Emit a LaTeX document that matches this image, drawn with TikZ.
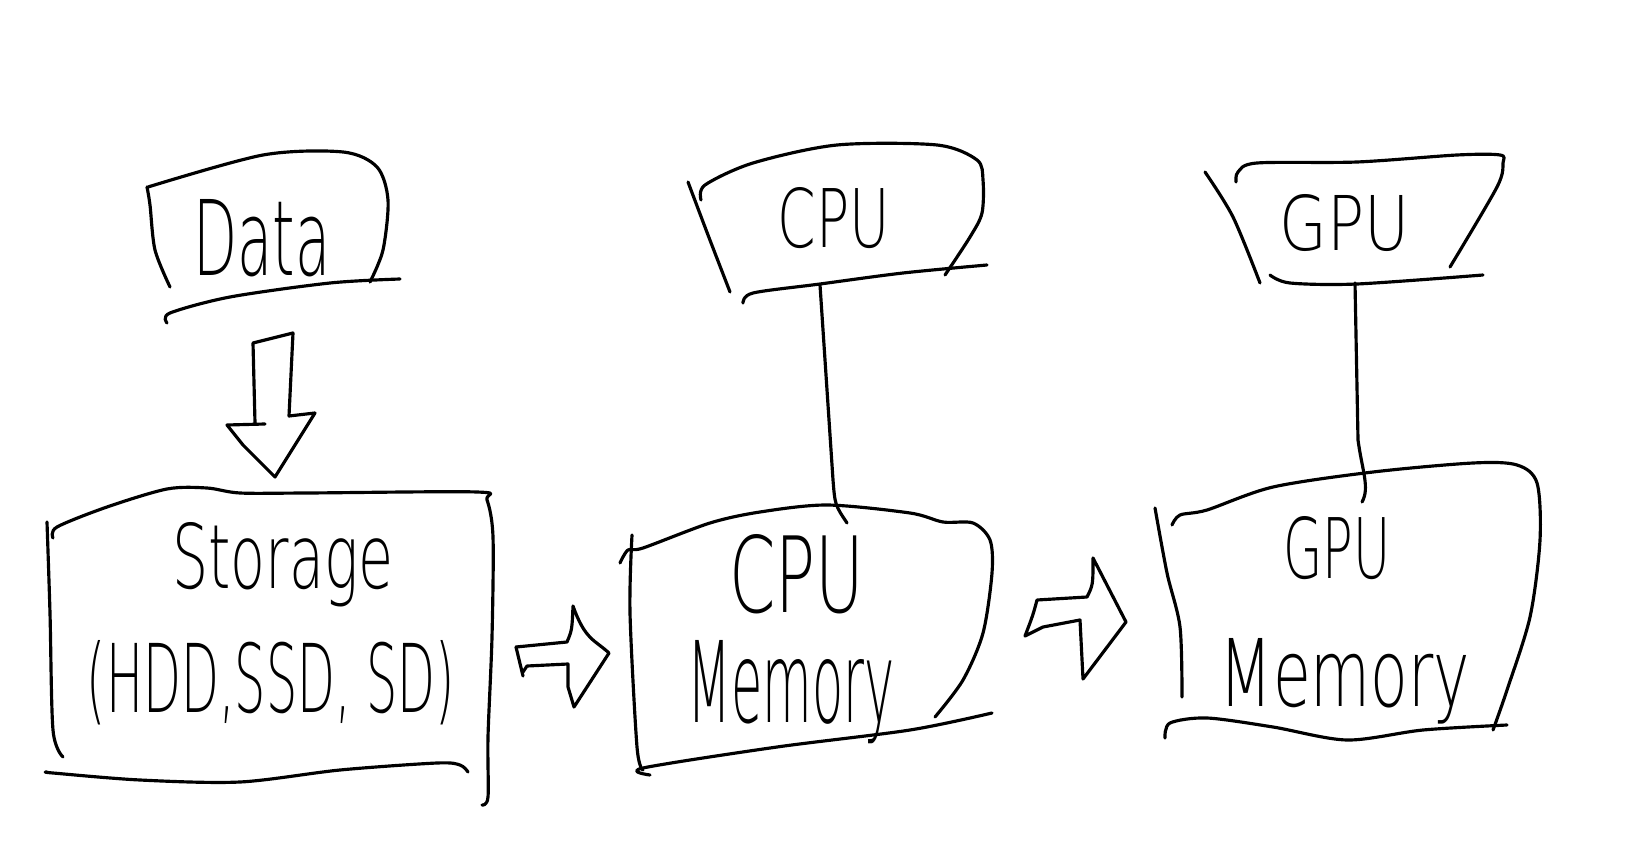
\documentclass[tikz,border=0pt]{standalone}
\usepackage{graphicx}
\usepackage{fontspec}
\setmainfont{DejaVu Sans}
\newfontfamily\hwfont{DejaVu Sans ExtraLight}
\newcommand{\hwt}[3]{\resizebox{#1cm}{#2cm}{\hwfont #3}}
\tikzset{
  pen/.style={line width=0.9pt, line cap=round, line join=round, black},
  hw/.style={inner sep=0pt, anchor=base, text=black},
}
\begin{document}
\begin{tikzpicture}[x=0.01cm,y=-0.01cm]
\fill[white] (0,0) rectangle (1640,858);
\useasboundingbox (0,0) rectangle (1640,858);

% ---------- Data box ----------
\node[hw] (data) at (262,276) {\hwt{1.37}{0.76}{Data}};
\draw[pen] plot[smooth] coordinates {(147,187) (150,205) (155,250) (170,287)};
\draw[pen] plot[smooth] coordinates {(148,187) (263,155) (343,152) (377,167) (388,200) (383,250) (370,282)};
\draw[pen] plot[smooth] coordinates {(400,279) (330,283) (230,297) (170,313) (167,323)};

% ---------- down block arrow ----------
\draw[pen] (255,423) -- (253,343) -- (293,333) -- (289,416) -- (315,413) -- (275,477) -- (243,445) -- (227,425) -- (265,424);

% ---------- Storage box ----------
\node[hw] (storage) at (283,588) {\hwt{2.21}{0.66}{Storage}};
\node[hw] (storage2) at (271,712) {\hwt{3.68}{0.72}{(HDD,SSD, SD)}};
\draw[pen] plot[smooth] coordinates {(47,522) (50,613) (53,730) (63,757)};
\draw[pen] plot[smooth] coordinates {(53,538) (57,527) (107,507) (167,489) (207,488) (240,493) (307,493) (477,492) (487,500) (493,537) (492,637) (488,737) (488,797) (482,805)};
\draw[pen] plot[smooth] coordinates {(47,772) (53,773) (140,780) (240,782) (340,770) (437,763) (460,765) (468,772)};

% ---------- arrow storage -> CPU memory ----------
\draw[pen] (516,647) -- (567,642) .. controls (572,630) .. (573,606)
  .. controls (585,640) and (595,640) .. (609,653) -- (574,707) -- (568,687) -- (568,664) -- (527,666) -- (523,672);
\draw[pen] (516,647) -- (523,676);

% ---------- CPU box ----------
\node[hw] (cpu) at (834,248) {\hwt{1.12}{0.60}{CPU}};
\draw[pen] plot[smooth] coordinates {(688,182) (708,235) (730,292)};
\draw[pen] plot[smooth] coordinates {(701,200) (705,185) (753,163) (837,145) (937,145) (977,160) (983,180) (982,213) (970,237) (945,275)};
\draw[pen] plot[smooth] coordinates {(987,265) (903,273) (820,284) (753,293) (743,303)};
\coordinate (cpuLink) at (820,285);

% ---------- CPU Memory box ----------
\node[hw] (cpumem) at (797,612) {\hwt{1.35}{0.78}{CPU}};
\node[hw] (cpumem2) at (791,722) {\hwt{2.07}{0.82}{Memory}};
\draw[pen] plot[smooth] coordinates {(632,535) (630,613) (637,747) (643,770)};
\draw[pen] plot[smooth] coordinates {(620,563) (628,550) (643,548) (710,523) (760,512) (827,505) (910,513) (943,522) (973,523) (990,540) (992,573) (983,633) (963,680) (935,717)};
\draw[pen] plot[smooth] coordinates {(992,713) (910,730) (777,747) (643,768) (650,775)};
\coordinate (cpumemLink) at (847,523);
\draw[pen] (cpuLink) -- (833,480) .. controls (835,505) .. (cpumemLink);

% ---------- arrow CPU memory -> GPU memory ----------
\draw[pen] (1037,600) -- (1087,597) .. controls (1093,585) .. (1093,558) -- (1126,622) -- (1083,679) -- (1080,620) -- (1043,627) -- (1025,636) .. controls (1033,615) .. (1037,600);

% ---------- GPU box ----------
\node[hw] (gpu) at (1345,251) {\hwt{1.30}{0.56}{GPU}};
\draw[pen] plot[smooth] coordinates {(1205,172) (1233,217) (1260,283)};
\draw[pen] plot[smooth] coordinates {(1236,182) (1238,172) (1257,163) (1357,162) (1457,155) (1500,155) (1503,163) (1497,187) (1450,267)};
\draw[pen] plot[smooth] coordinates {(1270,275) (1290,283) (1357,284) (1483,275)};
\coordinate (gpuLink) at (1355,283);

% ---------- GPU Memory box ----------
\node[hw] (gpumem) at (1337,578) {\hwt{1.07}{0.62}{GPU}};
\node[hw] (gpumem2) at (1345,706) {\hwt{2.50}{0.68}{Memory}};
\draw[pen] plot[smooth] coordinates {(1155,508) (1167,573) (1180,627) (1182,697)};
\draw[pen] plot[smooth] coordinates {(1172,525) (1180,515) (1207,510) (1273,487) (1373,472) (1473,463) (1517,465) (1537,483) (1540,540) (1530,617) (1507,690) (1493,730)};
\draw[pen] plot[smooth] coordinates {(1507,725) (1423,730) (1347,740) (1273,727) (1207,718) (1170,723) (1165,738)};
\coordinate (gpumemLink) at (1362,502);
\draw[pen] (gpuLink) -- (1358,440) .. controls (1362,470) and (1370,488) .. (gpumemLink);
\end{tikzpicture}
\end{document}
